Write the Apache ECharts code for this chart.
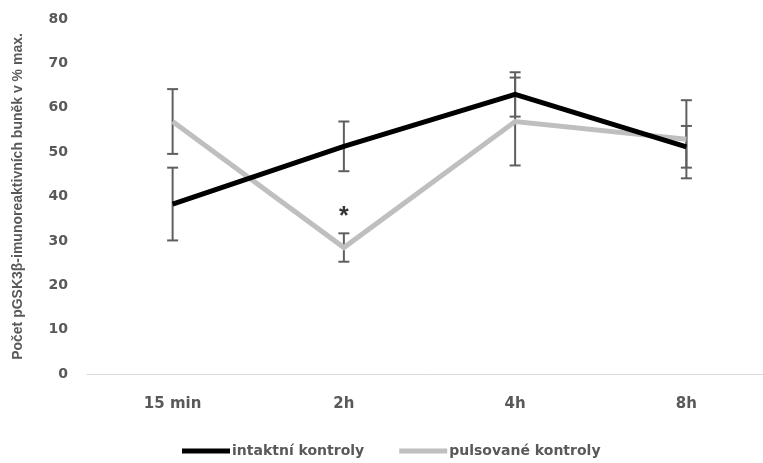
<!DOCTYPE html>
<html>
<head>
<meta charset="utf-8">
<script src="https://cdn.jsdelivr.net/npm/echarts@6/dist/echarts.min.js"></script>
<style>
  html, body { margin: 0; padding: 0; background: #fff; overflow: hidden; }
  /* plot area runs slightly past the right edge of the window */
  #chart { width: 772px; height: 463px; }
</style>
</head>
<body>
<div id="chart"></div>
<script>
// Time points after stimulation
const categories = ['15 min', '2h', '4h', '8h'];

// Mean share of pGSK3β-immunoreactive cells (% of max.) and its error (±)
const intaktniMean = [38.3, 51.3, 63.0, 51.2];
const intaktniErr  = [8.2, 5.6, 5.0, 4.7];
const pulsovaneMean = [56.9, 28.5, 56.9, 52.9];
const pulsovaneErr  = [7.3, 3.2, 9.9, 8.8];

// Significance marker above the 2h point
const signifMarks = [['2h', 36.5]];

const yTicks = [0, 10, 20, 30, 40, 50, 60, 70, 80];

const seriesNames = ['intaktní kontroly', 'pulsované kontroly'];
const lineColors = ['#000000', '#bfbfbf'];
const textColor = '#595959';
const labelFont = '"DejaVu Sans", sans-serif';
const titleFont = '"Liberation Sans", Arial, sans-serif';

function errData(means, errs) {
  return means.map((m, i) => [i, m - errs[i], m + errs[i]]);
}

// Vertical whisker with short caps at both ends
function renderErrorBar(params, api) {
  const x = api.value(0);
  const lo = api.coord([x, api.value(1)]);
  const hi = api.coord([x, api.value(2)]);
  const half = 5.5;
  const style = { stroke: '#5f5f5f', lineWidth: 2 };
  return {
    type: 'group',
    children: [
      { type: 'line', shape: { x1: lo[0], y1: lo[1], x2: hi[0], y2: hi[1] }, style },
      { type: 'line', shape: { x1: lo[0] - half, y1: lo[1], x2: lo[0] + half, y2: lo[1] }, style },
      { type: 'line', shape: { x1: hi[0] - half, y1: hi[1], x2: hi[0] + half, y2: hi[1] }, style }
    ]
  };
}

const chart = echarts.init(document.getElementById('chart'), null, { renderer: 'canvas' });

chart.setOption({
  animation: false,
  backgroundColor: '#ffffff',
  grid: { left: 87, top: 19, right: 0, bottom: 89, containLabel: false },
  legend: {
    top: 444,
    left: 182,
    padding: 0,
    data: seriesNames,
    itemWidth: 48,
    itemHeight: 5,
    itemGap: 35,
    icon: 'rect',
    textStyle: { color: textColor, fontSize: 14, fontWeight: 'bold', fontFamily: labelFont, padding: [0, 0, 0, -3] }
  },
  xAxis: {
    type: 'category',
    data: categories,
    boundaryGap: true,
    axisLine: { lineStyle: { color: '#d9d9d9', width: 1 } },
    axisTick: { show: false },
    axisLabel: { color: textColor, fontSize: 15, fontWeight: 'bold', fontFamily: labelFont, margin: 23 }
  },
  yAxis: {
    type: 'value',
    min: yTicks[0],
    max: yTicks[yTicks.length - 1],
    interval: yTicks[1] - yTicks[0],
    name: 'Počet pGSK3β-imunoreaktivních buněk v % max.',
    nameLocation: 'middle',
    nameGap: 62,
    nameTextStyle: { color: textColor, fontSize: 14, fontWeight: 'bold', fontFamily: titleFont },
    axisLine: { show: false },
    axisTick: { show: false },
    splitLine: { show: false },
    axisLabel: { color: textColor, fontSize: 14, fontWeight: 'bold', fontFamily: labelFont, margin: 19 }
  },
  series: [
    {
      name: 'intaktní kontroly – chyba',
      type: 'custom',
      renderItem: renderErrorBar,
      data: errData(intaktniMean, intaktniErr),
      encode: { x: 0, y: [1, 2] },
      z: 1,
      silent: true
    },
    {
      name: 'pulsované kontroly – chyba',
      type: 'custom',
      renderItem: renderErrorBar,
      data: errData(pulsovaneMean, pulsovaneErr),
      encode: { x: 0, y: [1, 2] },
      z: 1,
      silent: true
    },
    {
      name: seriesNames[0],
      type: 'line',
      data: intaktniMean,
      symbol: 'none',
      color: lineColors[0],
      lineStyle: { color: lineColors[0], width: 5, join: 'miter' },
      z: 3
    },
    {
      name: seriesNames[1],
      type: 'line',
      data: pulsovaneMean,
      symbol: 'none',
      color: lineColors[1],
      lineStyle: { color: lineColors[1], width: 5, join: 'miter' },
      z: 2
    },
    {
      type: 'scatter',
      data: signifMarks,
      symbolSize: 0,
      silent: true,
      label: {
        show: true,
        position: 'inside',
        formatter: '*',
        color: '#000',
        fontSize: 25,
        fontWeight: 'bold',
        fontFamily: titleFont,
        offset: [0, 5]
      },
      z: 4
    }
  ]
});
</script>
</body>
</html>
